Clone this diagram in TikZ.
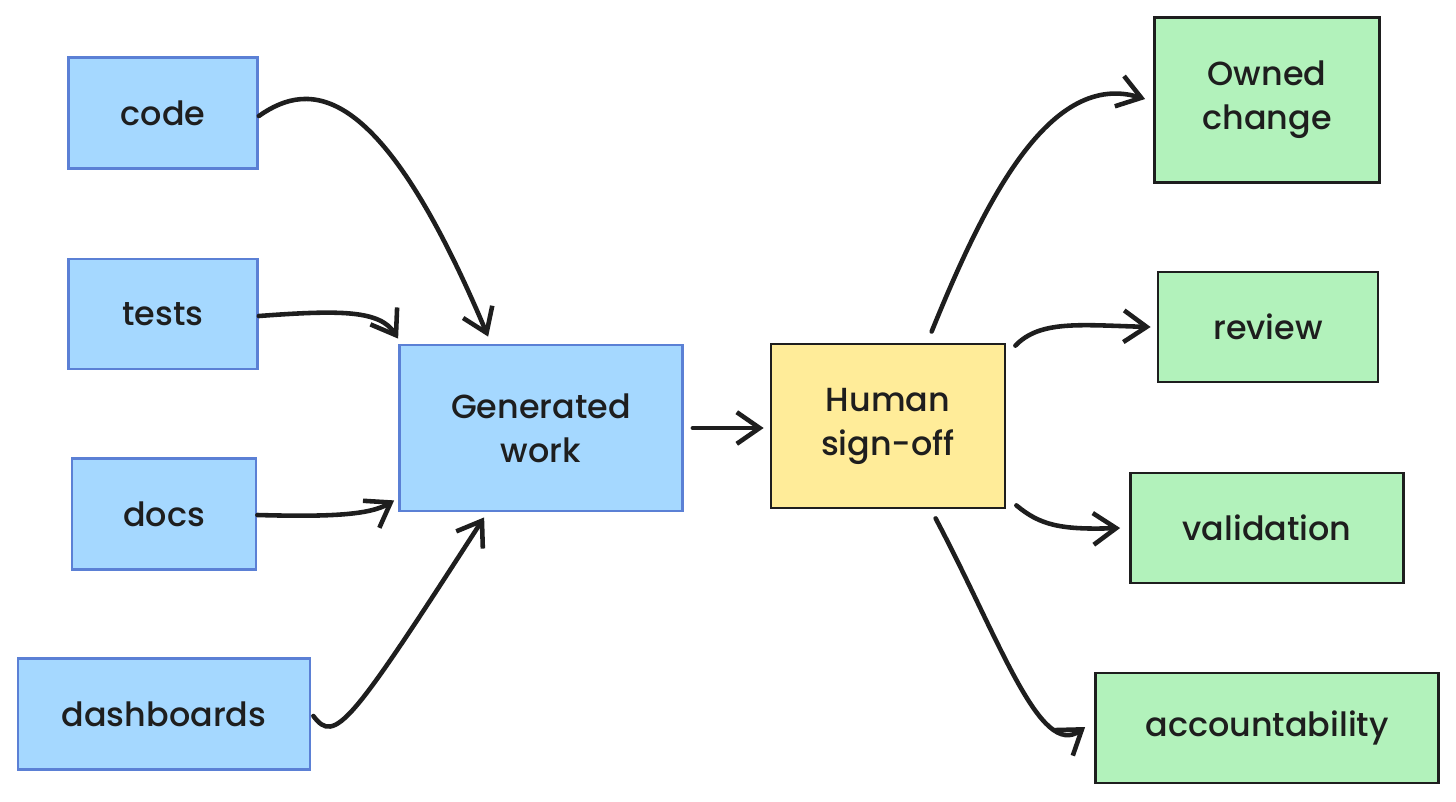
\documentclass[tikz,border=0pt]{standalone}
\usepackage{fontspec}
\setmainfont{Poppins Medium}
\usetikzlibrary{arrows.meta,calc}
\definecolor{bluefill}{HTML}{A5D8FF}
\definecolor{bluestroke}{HTML}{5B80D5}
\definecolor{yellowfill}{HTML}{FFEC99}
\definecolor{greenfill}{HTML}{B2F2BB}
\definecolor{ink}{HTML}{1E1E1E}
\tikzset{
  box/.style={draw, line width=1.6pt, align=center, inner sep=0pt,
    font=\fontsize{19}{25}\selectfont, text=ink},
  bluebox/.style={box, fill=bluefill, draw=bluestroke},
  yellowbox/.style={box, fill=yellowfill, draw=ink},
  greenbox/.style={box, fill=greenfill, draw=ink},
  arr/.style={draw=ink, line width=2.6pt, line cap=round,
    -{Straight Barb[length=13pt,width=18pt,line width=2.6pt]}},
}
\begin{document}
\begin{tikzpicture}[x=0.02cm, y=-0.02cm]
\useasboundingbox (0,0) rectangle (1456,801);
% left inputs
\node[bluebox, minimum width=3.78cm, minimum height=2.22cm] (code) at (163,113) {code};
\node[bluebox, minimum width=3.78cm, minimum height=2.20cm] (tests) at (163,314) {tests};
\node[bluebox, minimum width=3.68cm, minimum height=2.22cm] (docs) at (164,514) {docs};
\node[bluebox, minimum width=5.84cm, minimum height=2.22cm] (dash) at (164,714) {dashboards};
% centre
\node[bluebox, minimum width=5.66cm, minimum height=3.32cm] (gen) at (541,428) {Generated\\work};
\node[yellowbox, minimum width=4.68cm, minimum height=3.28cm] (human) at (888,426) {Human\\sign-off};
% outcomes
\node[greenbox, minimum width=4.50cm, minimum height=3.30cm] (owned) at (1267,100) {Owned\\change};
\node[greenbox, minimum width=4.40cm, minimum height=2.20cm] (review) at (1268,327) {review};
\node[greenbox, minimum width=5.46cm, minimum height=2.20cm] (valid) at (1267,528) {validation};
\node[greenbox, minimum width=6.86cm, minimum height=2.20cm] (acct) at (1267,728) {accountability};
% connectors
\draw[arr] ($(code.east)+(0,3)$) .. controls (310,80) and (380,80) .. ($(gen.north west)+(90,-7)$);
\draw[arr] ($(tests.east)+(0,2)$) .. controls (340,310) and (380,310) .. ($(gen.north west)+(0,-5)$);
\draw[arr] ($(docs.east)+(0,1)$) .. controls (330,517) and (370,515) .. ($(gen.south west)+(-4,-12)$);
\draw[arr] ($(dash.east)+(2,2)$) .. controls (335,745) and (350,725) .. ($(gen.south west)+(86,5)$);
\draw[arr] ($(gen.east)+(9,0)$) -- ($(human.west)+(-6,2)$);
\draw[arr] ($(human.north west)+(162,-11)$) .. controls (985,200) and (1050,70) .. ($(owned.west)+(-8,-1)$);
\draw[arr] ($(human.north east)+(9,3)$) .. controls (1040,320) and (1080,325) .. ($(review.west)+(-6,0)$);
\draw[arr] ($(human.south east)+(10,-4)$) .. controls (1040,525) and (1060,530) .. ($(valid.west)+(-9,0)$);
\draw[arr] ($(human.south west)+(166,9)$) .. controls (1000,640) and (1040,760) .. ($(acct.west)+(-9,-1)$);
\end{tikzpicture}
\end{document}
